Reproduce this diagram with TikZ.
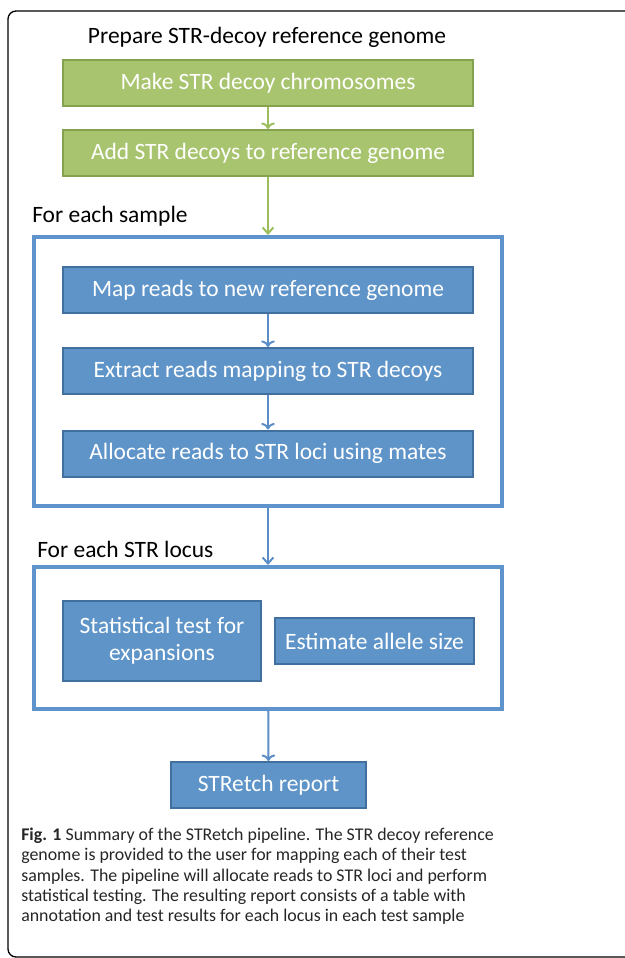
\documentclass[tikz,border=0pt]{standalone}
\usepackage{fontspec}
\setmainfont{Carlito}
\usetikzlibrary{arrows.meta}
\definecolor{greenfill}{HTML}{A8C46E}
\definecolor{greenline}{HTML}{85A24F}
\definecolor{greenarr}{HTML}{9DBE5C}
\definecolor{bluefill}{HTML}{5F94C9}
\definecolor{blueline}{HTML}{41709F}
\definecolor{bluearr}{HTML}{5B8DC6}
\definecolor{frameline}{HTML}{5F93CC}
\tikzset{
  boxfont/.style={font=\fontsize{17.6}{20}\selectfont},
  greenbox/.style={draw=greenline, fill=greenfill, line width=1.5pt, text=white, boxfont,
    minimum width=308pt, minimum height=34.5pt, inner sep=0pt},
  bluebox/.style={draw=blueline, fill=bluefill, line width=1.5pt, text=white, boxfont,
    minimum width=307.5pt, minimum height=34.5pt, inner sep=0pt, align=center},
  frame/.style={draw=frameline, line width=3pt, minimum width=351pt},
  greenarrow/.style={draw=greenarr, line width=1.5pt, -{Straight Barb[length=4.5pt,width=8pt]}},
  bluearrow/.style={draw=bluearr, line width=1.5pt, -{Straight Barb[length=4.5pt,width=8pt]}},
}
\begin{document}
\begin{tikzpicture}[x=0.75pt,y=-0.75pt]
	\useasboundingbox (0,0) rectangle (625,958);
	\clip (0,0) rectangle (625,958);
	\draw[line width=1pt, rounded corners=6pt] (8,11) rectangle (645,957);
	% reference genome
	\node (Pr) at (267,37) [boxfont] {Prepare STR-decoy reference genome};
	\node (Ma) at (268,83)  [greenbox] {Make STR decoy chromosomes};
	\node (Ad) at (268,153) [greenbox] {Add STR decoys to reference genome} edge [greenarrow, <-] (Ma);
	% each sample
	\node (Sa) at (268,371.5) [frame, minimum height=201.75pt] {};
	\node (SaL) at (32,216) [anchor=west, inner sep=0pt, boxfont] {For each sample};
	\draw[greenarrow] (Ad) -- (Sa);
	\node (Mp) at (268,290)   [bluebox] {Map reads to new reference genome};
	\node (Ex) at (268,371)   [bluebox] {Extract reads mapping to STR decoys} edge [bluearrow, <-] (Mp);
	\node (Al) at (268,453.5) [bluebox] {Allocate reads to STR loci using mates} edge [bluearrow, <-] (Ex);
	% each locus
	\node (Lo) at (268,638) [frame, minimum height=106.5pt] {};
	\node (LoL) at (37,549) [anchor=west, inner sep=0pt, boxfont] {For each STR locus};
	\draw[bluearrow] (Sa) -- (Lo);
	\node (St) at (162,641)   [bluebox, minimum width=148.5pt, minimum height=60pt] {Statistical test for\\expansions};
	\node (Es) at (374.5,641) [bluebox, minimum width=149.25pt] {Estimate allele size};
	\node (Re) at (268.5,785) [bluebox, minimum width=146.25pt] {STRetch report} edge [bluearrow, <-] (Lo);
	% caption
	\node (Fig) at (21,827.5) [anchor=north west, inner sep=0pt, align=left, text=black!85,
		font=\fontsize{13.4}{15.3}\selectfont]
		{\textbf{Fig. 1} Summary of the STRetch pipeline. The STR decoy reference\\
		genome is provided to the user for mapping each of their test\\
		samples. The pipeline will allocate reads to STR loci and perform\\
		statistical testing. The resulting report consists of a table with\\
		annotation and test results for each locus in each test sample};
\end{tikzpicture}
\end{document}
